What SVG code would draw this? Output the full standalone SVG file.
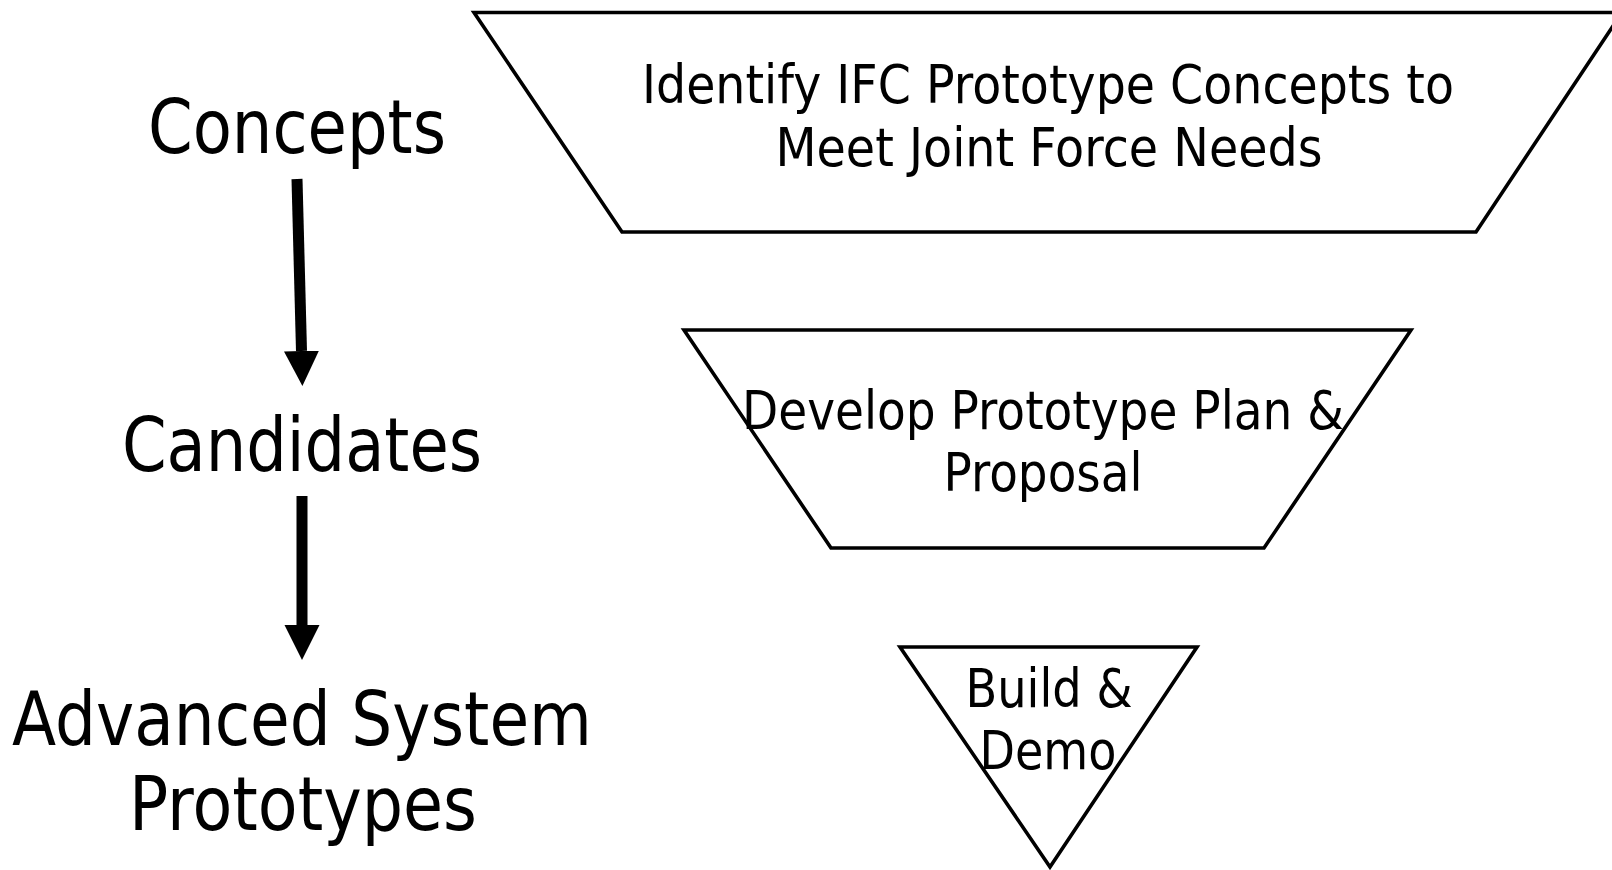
<svg xmlns="http://www.w3.org/2000/svg" width="1612" height="870" viewBox="0 0 1612 870">
<style>
.shape{fill:#ffffff;stroke:#000000;stroke-width:3.6;stroke-linejoin:miter}
.big{font-family:"DejaVu Sans","Liberation Sans",sans-serif;font-size:75px;fill:#000;text-anchor:middle}
.box{font-family:"DejaVu Sans","Liberation Sans",sans-serif;font-size:54px;fill:#000;text-anchor:middle}
.conn{stroke:#000;stroke-width:11;fill:none}
</style>
<defs>
<marker id="head" markerUnits="userSpaceOnUse" markerWidth="36" markerHeight="36" viewBox="0 0 36 36" refX="0" refY="17.5" orient="auto">
<path d="M0,0 L35,17.5 L0,35 z" fill="#000"/>
</marker>
</defs>
<rect width="1612" height="870" fill="#ffffff"/>
<g id="concepts">
<text class="big" x="297" y="153" textLength="298" lengthAdjust="spacingAndGlyphs">Concepts</text>
</g>
<g id="candidates">
<text class="big" x="302" y="471" textLength="360" lengthAdjust="spacingAndGlyphs">Candidates</text>
</g>
<g id="advanced">
<text class="big" x="302" y="745" textLength="580" lengthAdjust="spacingAndGlyphs">Advanced System</text>
<text class="big" x="303" y="830" textLength="348" lengthAdjust="spacingAndGlyphs">Prototypes</text>
</g>
<g id="connectors">
<line class="conn" x1="297" y1="179" x2="301.5" y2="351" marker-end="url(#head)"/>
<line class="conn" x1="302" y1="496" x2="302" y2="625" marker-end="url(#head)"/>
</g>
<g id="identify">
<polygon class="shape" points="474,12.5 1622,12.5 1476,232 622,232"/>
<text class="box" x="1048" y="103" textLength="812" lengthAdjust="spacingAndGlyphs">Identify IFC Prototype Concepts to</text>
<text class="box" x="1049" y="166" textLength="547" lengthAdjust="spacingAndGlyphs">Meet Joint Force Needs</text>
</g>
<g id="develop">
<polygon class="shape" points="684,330 1411,330 1264,548 831,548"/>
<text class="box" x="1043" y="429" textLength="602" lengthAdjust="spacingAndGlyphs">Develop Prototype Plan &amp;</text>
<text class="box" x="1043" y="491" textLength="199" lengthAdjust="spacingAndGlyphs">Proposal</text>
</g>
<g id="build">
<polygon class="shape" points="900,647 1197,647 1050,867"/>
<text class="box" x="1049" y="707" textLength="167" lengthAdjust="spacingAndGlyphs">Build &amp;</text>
<text class="box" x="1048" y="769" textLength="137" lengthAdjust="spacingAndGlyphs">Demo</text>
</g>
</svg>
